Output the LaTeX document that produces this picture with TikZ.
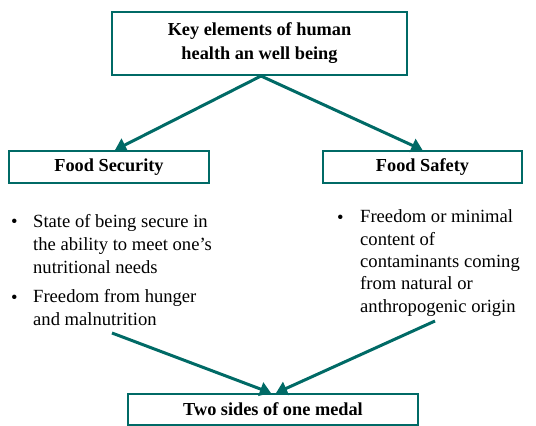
\documentclass[tikz,border=0pt]{standalone}
\usepackage{fontspec}
\setmainfont{Liberation Serif}
\usetikzlibrary{arrows.meta,positioning}
\definecolor{teal}{RGB}{0,106,102}
\tikzset{
  box/.style={draw=teal, line width=2pt, fill=white, inner sep=0pt,
    font=\fontsize{18.3}{24}\selectfont\bfseries, align=center},
  link/.style={draw=teal, line width=3pt,
    -{Triangle[length=11pt,width=14pt]}},
  body/.style={inner sep=0pt, align=left},
  dot/.style={inner sep=0pt, font=\fontsize{18.6}{23}\selectfont}
}
\begin{document}
\begin{tikzpicture}[x=1pt,y=-1pt]
  \useasboundingbox (0,0) rectangle (536,426);

  % boxes
  \node[box, minimum width=295pt, minimum height=63pt] (top) at (259.5,43.5)
    {Key elements of human\\health an well being};
  \node[box, minimum width=200pt, minimum height=32pt] (fsec) at (109,167)
    {Food Security};
  \node[box, minimum width=199pt, minimum height=32pt] (fsaf) at (422.5,167)
    {Food Safety};
  \node[box, minimum width=290pt, minimum height=31pt] (medal) at (273,409.5)
    {Two sides of one medal};

  % bullet lists (anchored on the baseline of their last line)
  \node[dot, anchor=base west] (b1) at (11,227) {•};
  \node[body, font=\fontsize{18.6}{23}\selectfont, anchor=base west] (t1) at (33,273)
    {State of being secure in\\the ability to meet one’s\\nutritional needs};
  \node[dot, anchor=base west] (b2) at (11,303) {•};
  \node[body, font=\fontsize{18.6}{23}\selectfont, anchor=base west] (t2) at (33,325)
    {Freedom from hunger\\and malnutrition};
  \node[dot, anchor=base west] (b3) at (337,223) {•};
  \node[body, font=\fontsize{18.6}{22.3}\selectfont, anchor=base west] (t3) at (360,312)
    {Freedom or minimal\\content of\\contaminants coming\\from natural or\\anthropogenic origin};

  % connectors
  \coordinate (lfrom) at (112,333);
  \coordinate (rfrom) at (435,321);
  \draw[link] ([xshift=1.5pt]top.south) -- ([xshift=6pt]fsec.north);
  \draw[link] ([xshift=1.5pt]top.south) -- (fsaf.north);
  \draw[link] (lfrom) -- ([xshift=-2pt]medal.north);
  \draw[link] (rfrom) -- ([xshift=3pt]medal.north);
\end{tikzpicture}
\end{document}
